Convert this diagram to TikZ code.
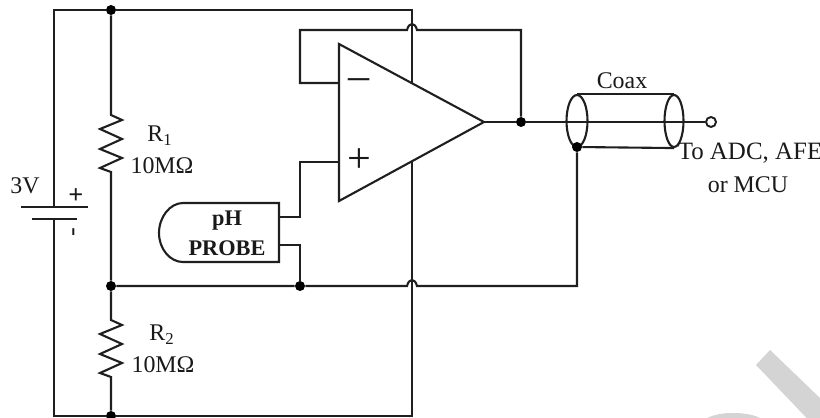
\documentclass[tikz,border=0pt]{standalone}
\usepackage{fontspec}
\setmainfont{Liberation Serif}
\usetikzlibrary{calc,shapes.geometric}

\begin{document}
\begin{tikzpicture}[
    x=0.02cm, y=-0.02cm,
    wire/.style={line width=1.2pt, color=black!88, line join=miter},
    junction/.style={circle, fill=black, inner sep=0pt, minimum size=0.2cm},
    terminal/.style={circle, draw=black!88, line width=1.1pt, fill=white, inner sep=0pt, minimum size=0.2cm},
    label/.style={font=\fontsize{13.6}{15}\selectfont, color=black!90, inner sep=0pt},
    boldlabel/.style={label, font=\fontsize{12.7}{15}\selectfont\bfseries},
    coaxend/.style={ellipse, draw=black!88, line width=1.2pt, inner sep=0pt},
    resistor/.style={to path={-- ++(11,5) -- ++(-22,9) -- ++(22,10) -- ++(-22,10)
        -- ++(22,9) -- ++(-22,10) -- (\tikztotarget)}},
    watermark/.style={fill=black!17, draw=none},
  ]
  \useasboundingbox (0,0) rectangle (820,418);

  % watermark
  \fill [watermark] (770,350) -- (756,365) -- (820,432) -- (820,398) -- cycle;
  \fill [watermark] (707,418) .. controls (716,414) and (724,413) .. (732,413)
    .. controls (742,413) and (752,414) .. (760,418) -- cycle;

  % corners and junctions of the wiring
  \coordinate (topleft) at (54,10);
  \coordinate (topright) at (412,10);
  \coordinate (botleft) at (54,416);
  \coordinate (botright) at (412,416);
  \coordinate (batplus) at (54,207);
  \coordinate (batminus) at (54,219);
  \node [junction] (topdot) at (111,10) {};
  \node [junction] (middot) at (111,286) {};
  \node [junction] (botdot) at (111,416) {};
  \node [junction] (probedot) at (300,286) {};
  \node [junction] (outdot) at (521,122) {};
  \coordinate (r1top) at (111,115);
  \coordinate (r1bot) at (111,172);
  \coordinate (r2top) at (111,320);
  \coordinate (r2bot) at (111,377);

  % opamp
  \coordinate (amptop) at (339,44);
  \coordinate (ampbot) at (339,201);
  \coordinate (amptip) at (484,122);
  \coordinate (ampminus) at (339,83);
  \coordinate (ampplus) at (339,162);
  \coordinate (ampup) at (412,84);
  \coordinate (ampdown) at (412,162);
  \draw [wire] (amptop) -- (amptip) -- (ampbot) -- cycle;

  % battery and supply rails
  \draw [wire] (batplus) -- (topleft) -- (topdot) -- (topright) -- (ampup);
  \draw [wire] (batminus) -- (botleft) -- (botdot) -- (botright) -- (ampdown);
  \draw [wire] (21,207) -- (88,207);
  \draw [wire] (32,219) -- (77,219);

  % divider
  \draw [wire] (topdot) -- (r1top) to [resistor] (r1bot) -- (middot);
  \draw [wire] (middot) -- (r2top) to [resistor] (r2bot) -- (botdot);

  % feedback, hops over the rail
  \coordinate (fbleft) at (300,83);
  \coordinate (fbup) at (300,30);
  \coordinate (fbright) at (521,30);
  \draw [wire] (ampminus) -- (fbleft) -- (fbup) -- (407,30)
    .. controls (409,22) and (415,22) .. (417,30) -- (fbright) -- (outdot);

  % coax
  \node [coaxend, minimum width=0.42cm, minimum height=1.04cm] (coaxin) at (577,121) {};
  \node [coaxend, minimum width=0.38cm, minimum height=1.04cm] (coaxout) at (674,121) {};
  \node [terminal] (output) at (711,122) {};
  \node [junction] (shield) at (577,147) {};
  \draw [wire] (coaxin.north) -- (coaxout.north);
  \draw [wire] (shield) -- (coaxout.south);
  \draw [wire] (amptip) -- (outdot) -- (output);
  \draw [wire] (middot) -- (probedot) -- (407,286)
    .. controls (409,278) and (415,278) .. (417,286) -- (577,286) -- (shield);

  % probe
  \coordinate (probetr) at (279,203);
  \coordinate (probebr) at (279,262);
  \coordinate (probehi) at (279,217);
  \coordinate (probelo) at (279,245);
  \draw [wire] (probetr) -- (183,203) .. controls (170,203) and (159,217) .. (159,233)
    .. controls (159,249) and (170,262) .. (183,262) -- (probebr) -- cycle;
  \draw [wire] (probehi) -- (300,217) -- (300,162) -- (ampplus);
  \draw [wire] (probelo) -- (300,245) -- (probedot);
  \node [boldlabel] (phtext) at (227,221) {pH};
  \node [boldlabel] (probetext) at (227,248) {PROBE};

  % labels
  \node [label] (vlabel) at (25,186) {3V};
  \node [label, font=\fontsize{15}{15}\selectfont\bfseries] (batp) at (76,196) {+};
  \node [label, font=\fontsize{15}{15}\selectfont, rotate=90] (batm) at (76,232) {-};
  \node [label] (r1name) at (160,136) {R\textsubscript{1}};
  \node [label] (r1value) at (162,166) {10MΩ};
  \node [label] (r2name) at (162,335) {R\textsubscript{2}};
  \node [label] (r2value) at (163,365) {10MΩ};
  \node [label] (coaxtext) at (622,81) {Coax};
  \node [label, font=\fontsize{14.2}{15}\selectfont] (outtext) at (750,153) {To ADC, AFE};
  \node [label] (outtext2) at (748,185) {or MCU};
  \node [label, font=\fontsize{24}{24}\selectfont] (ampp) at (359,161) {+};
  \node [label, font=\fontsize{24}{24}\selectfont] (ampm) at (359,84) {–};
\end{tikzpicture}
\end{document}
